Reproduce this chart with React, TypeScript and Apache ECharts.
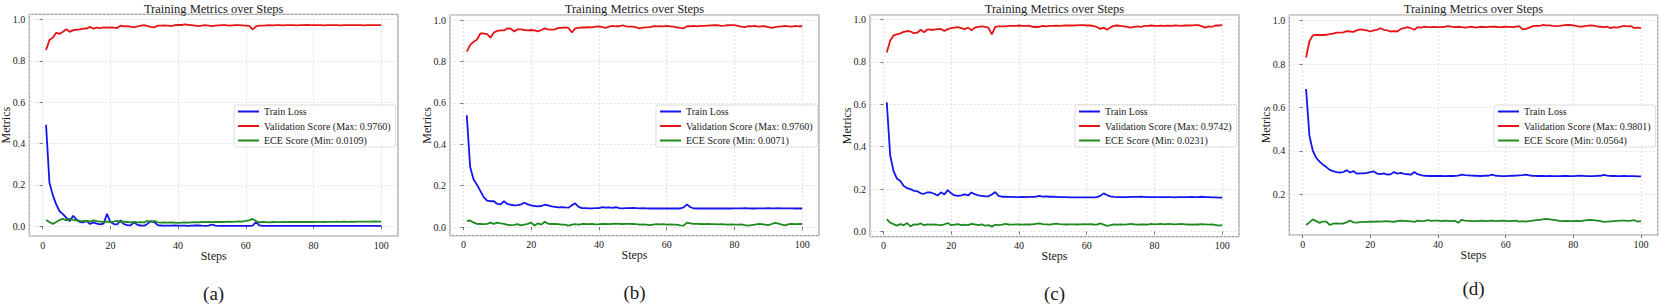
import React, { useEffect, useRef } from "react";
import * as echarts from "echarts";

// ---------- DATA ----------
const STEPS: number[] = Array.from({ length: 100 }, (_, i) => i + 1);
const X_TICKS = [0, 20, 40, 60, 80, 100];

const lossA = [
  0.490, 0.210, 0.150, 0.105, 0.072, 0.058, 0.040, 0.025, 0.050, 0.032,
  0.020, 0.018, 0.025, 0.010, 0.018, 0.012, 0.008, 0.012, 0.060, 0.020,
  0.010, 0.008, 0.028, 0.010, 0.005, 0.004, 0.018, 0.006, 0.003, 0.002,
  0.012, 0.025, 0.018, 0.005, 0.003, 0.002, 0.002, 0.002, 0.003, 0.002,
  0.002, 0.002, 0.001, 0.002, 0.003, 0.004, 0.002, 0.001, 0.002, 0.008,
  0.002, 0.001, 0.001, 0.001, 0.001, 0.001, 0.001, 0.001, 0.001, 0.001,
  0.001, 0.002, 0.020, 0.004, 0.001, 0.001, 0.001, 0.001, 0.001, 0.001,
  0.001, 0.001, 0.001, 0.001, 0.001, 0.001, 0.001, 0.001, 0.001, 0.001,
  0.001, 0.001, 0.001, 0.001, 0.001, 0.001, 0.001, 0.001, 0.001, 0.001,
  0.001, 0.001, 0.001, 0.001, 0.001, 0.001, 0.001, 0.001, 0.001, 0.001,
];
const valA = [
  0.852, 0.900, 0.912, 0.935, 0.930, 0.940, 0.952, 0.940, 0.948, 0.950,
  0.952, 0.955, 0.956, 0.964, 0.955, 0.960, 0.958, 0.962, 0.960, 0.962,
  0.960, 0.958, 0.970, 0.966, 0.968, 0.965, 0.962, 0.966, 0.970, 0.972,
  0.968, 0.964, 0.962, 0.970, 0.970, 0.971, 0.970, 0.968, 0.972, 0.974,
  0.973, 0.976, 0.974, 0.972, 0.970, 0.968, 0.970, 0.972, 0.970, 0.968,
  0.970, 0.971, 0.972, 0.972, 0.970, 0.971, 0.972, 0.972, 0.971, 0.970,
  0.969, 0.952, 0.966, 0.970, 0.970, 0.971, 0.972, 0.971, 0.972, 0.972,
  0.971, 0.972, 0.972, 0.972, 0.971, 0.972, 0.972, 0.973, 0.972, 0.972,
  0.972, 0.972, 0.971, 0.972, 0.972, 0.972, 0.972, 0.971, 0.972, 0.972,
  0.972, 0.972, 0.972, 0.972, 0.971, 0.972, 0.972, 0.972, 0.972, 0.972,
];
const eceA = [
  0.030, 0.020, 0.011, 0.020, 0.030, 0.035, 0.028, 0.035, 0.030, 0.028,
  0.025, 0.024, 0.026, 0.022, 0.028, 0.024, 0.022, 0.020, 0.022, 0.020,
  0.022, 0.025, 0.020, 0.022, 0.020, 0.018, 0.020, 0.018, 0.019, 0.018,
  0.026, 0.020, 0.025, 0.018, 0.017, 0.018, 0.017, 0.018, 0.017, 0.016,
  0.017, 0.018, 0.017, 0.018, 0.019, 0.018, 0.020, 0.019, 0.020, 0.019,
  0.020, 0.021, 0.020, 0.021, 0.022, 0.021, 0.022, 0.023, 0.022, 0.025,
  0.028, 0.035, 0.025, 0.018, 0.020, 0.019, 0.018, 0.020, 0.019, 0.019,
  0.020, 0.019, 0.020, 0.020, 0.021, 0.020, 0.021, 0.020, 0.021, 0.020,
  0.021, 0.021, 0.020, 0.021, 0.021, 0.021, 0.022, 0.021, 0.022, 0.021,
  0.022, 0.021, 0.022, 0.022, 0.022, 0.022, 0.022, 0.023, 0.022, 0.022,
];

const lossB = [
  0.540, 0.290, 0.230, 0.205, 0.175, 0.145, 0.128, 0.125, 0.125, 0.112,
  0.110, 0.125, 0.112, 0.108, 0.105, 0.106, 0.110, 0.118, 0.110, 0.105,
  0.102, 0.100, 0.102, 0.108, 0.105, 0.100, 0.098, 0.095, 0.097, 0.095,
  0.094, 0.105, 0.115, 0.098, 0.092, 0.092, 0.091, 0.091, 0.092, 0.092,
  0.097, 0.094, 0.095, 0.093, 0.096, 0.092, 0.091, 0.092, 0.092, 0.093,
  0.092, 0.091, 0.092, 0.091, 0.090, 0.091, 0.090, 0.090, 0.090, 0.090,
  0.090, 0.090, 0.090, 0.090, 0.095, 0.110, 0.096, 0.091, 0.090, 0.090,
  0.090, 0.090, 0.090, 0.090, 0.090, 0.090, 0.090, 0.090, 0.090, 0.091,
  0.091, 0.091, 0.092, 0.091, 0.090, 0.090, 0.091, 0.091, 0.091, 0.092,
  0.091, 0.091, 0.092, 0.091, 0.091, 0.091, 0.091, 0.090, 0.090, 0.090,
];
const valB = [
  0.848, 0.880, 0.895, 0.905, 0.935, 0.935, 0.932, 0.915, 0.940, 0.948,
  0.950, 0.950, 0.960, 0.958, 0.945, 0.955, 0.955, 0.952, 0.950, 0.952,
  0.950, 0.945, 0.952, 0.960, 0.955, 0.954, 0.955, 0.962, 0.962, 0.965,
  0.962, 0.940, 0.960, 0.962, 0.965, 0.964, 0.966, 0.965, 0.968, 0.970,
  0.966, 0.962, 0.968, 0.972, 0.970, 0.970, 0.975, 0.970, 0.968, 0.968,
  0.965, 0.960, 0.963, 0.965, 0.966, 0.970, 0.970, 0.971, 0.970, 0.972,
  0.970, 0.968, 0.965, 0.962, 0.960, 0.970, 0.970, 0.972, 0.970, 0.972,
  0.972, 0.973, 0.974, 0.975, 0.976, 0.972, 0.973, 0.975, 0.976, 0.976,
  0.972, 0.968, 0.966, 0.970, 0.970, 0.972, 0.968, 0.970, 0.970, 0.966,
  0.962, 0.966, 0.968, 0.970, 0.972, 0.970, 0.968, 0.972, 0.970, 0.970,
];
const eceB = [
  0.030, 0.032, 0.022, 0.016, 0.015, 0.014, 0.016, 0.022, 0.016, 0.022,
  0.018, 0.016, 0.011, 0.010, 0.011, 0.014, 0.008, 0.012, 0.016, 0.022,
  0.008, 0.018, 0.012, 0.026, 0.016, 0.015, 0.016, 0.014, 0.012, 0.012,
  0.007, 0.012, 0.014, 0.012, 0.015, 0.016, 0.014, 0.015, 0.013, 0.014,
  0.016, 0.015, 0.014, 0.016, 0.017, 0.016, 0.015, 0.016, 0.016, 0.015,
  0.014, 0.012, 0.013, 0.012, 0.010, 0.012, 0.014, 0.013, 0.014, 0.012,
  0.013, 0.012, 0.012, 0.008, 0.007, 0.022, 0.018, 0.016, 0.016, 0.015,
  0.014, 0.015, 0.014, 0.014, 0.013, 0.014, 0.013, 0.012, 0.013, 0.012,
  0.012, 0.013, 0.010, 0.007, 0.010, 0.012, 0.015, 0.014, 0.012, 0.010,
  0.015, 0.020, 0.017, 0.012, 0.008, 0.014, 0.015, 0.014, 0.015, 0.015,
];

const lossC = [
  0.610, 0.360, 0.285, 0.250, 0.238, 0.215, 0.205, 0.200, 0.192, 0.190,
  0.180, 0.178, 0.185, 0.184, 0.178, 0.170, 0.185, 0.175, 0.195, 0.180,
  0.170, 0.168, 0.170, 0.175, 0.170, 0.184, 0.176, 0.170, 0.168, 0.166,
  0.166, 0.175, 0.186, 0.168, 0.164, 0.164, 0.163, 0.163, 0.162, 0.162,
  0.163, 0.162, 0.163, 0.163, 0.164, 0.168, 0.165, 0.166, 0.164, 0.164,
  0.163, 0.162, 0.162, 0.162, 0.161, 0.161, 0.161, 0.161, 0.161, 0.161,
  0.161, 0.161, 0.162, 0.168, 0.180, 0.172, 0.166, 0.163, 0.162, 0.162,
  0.162, 0.162, 0.163, 0.163, 0.163, 0.164, 0.163, 0.162, 0.162, 0.162,
  0.162, 0.162, 0.162, 0.162, 0.162, 0.161, 0.162, 0.162, 0.162, 0.162,
  0.163, 0.162, 0.162, 0.164, 0.162, 0.162, 0.161, 0.161, 0.160, 0.160,
];
const valC = [
  0.845, 0.900, 0.925, 0.930, 0.935, 0.942, 0.946, 0.944, 0.936, 0.938,
  0.952, 0.940, 0.954, 0.952, 0.952, 0.955, 0.956, 0.946, 0.955, 0.960,
  0.962, 0.964, 0.960, 0.955, 0.962, 0.950, 0.962, 0.966, 0.968, 0.966,
  0.962, 0.930, 0.965, 0.968, 0.968, 0.968, 0.970, 0.970, 0.970, 0.972,
  0.970, 0.970, 0.971, 0.966, 0.965, 0.966, 0.970, 0.968, 0.970, 0.970,
  0.971, 0.970, 0.971, 0.972, 0.972, 0.972, 0.973, 0.974, 0.974, 0.972,
  0.972, 0.970, 0.965, 0.956, 0.962, 0.952, 0.963, 0.970, 0.972, 0.970,
  0.968, 0.966, 0.962, 0.966, 0.968, 0.965, 0.970, 0.970, 0.972, 0.970,
  0.970, 0.971, 0.970, 0.971, 0.970, 0.972, 0.971, 0.970, 0.972, 0.972,
  0.973, 0.974, 0.974, 0.968, 0.962, 0.968, 0.966, 0.972, 0.972, 0.974,
];
const eceC = [
  0.058, 0.042, 0.035, 0.028, 0.035, 0.030, 0.040, 0.024, 0.034, 0.032,
  0.038, 0.030, 0.034, 0.032, 0.033, 0.031, 0.030, 0.034, 0.040, 0.030,
  0.032, 0.035, 0.030, 0.032, 0.030, 0.036, 0.034, 0.030, 0.034, 0.028,
  0.030, 0.023, 0.032, 0.030, 0.032, 0.036, 0.033, 0.032, 0.034, 0.033,
  0.032, 0.034, 0.033, 0.034, 0.036, 0.038, 0.035, 0.034, 0.032, 0.035,
  0.037, 0.035, 0.034, 0.033, 0.034, 0.034, 0.033, 0.034, 0.035, 0.034,
  0.035, 0.033, 0.032, 0.038, 0.032, 0.027, 0.030, 0.034, 0.032, 0.033,
  0.032, 0.034, 0.036, 0.034, 0.032, 0.034, 0.033, 0.032, 0.036, 0.034,
  0.035, 0.036, 0.034, 0.036, 0.035, 0.034, 0.035, 0.036, 0.034, 0.033,
  0.032, 0.034, 0.033, 0.035, 0.034, 0.032, 0.033, 0.031, 0.028, 0.030,
];

const lossD = [
  0.685, 0.470, 0.400, 0.368, 0.350, 0.336, 0.325, 0.312, 0.306, 0.302,
  0.300, 0.302, 0.310, 0.300, 0.306, 0.295, 0.296, 0.296, 0.298, 0.302,
  0.305, 0.295, 0.292, 0.296, 0.290, 0.292, 0.302, 0.295, 0.298, 0.294,
  0.292, 0.290, 0.302, 0.292, 0.288, 0.285, 0.284, 0.284, 0.284, 0.284,
  0.284, 0.283, 0.284, 0.284, 0.284, 0.286, 0.290, 0.288, 0.287, 0.286,
  0.285, 0.284, 0.284, 0.285, 0.286, 0.290, 0.285, 0.284, 0.283, 0.283,
  0.284, 0.285, 0.286, 0.287, 0.288, 0.290, 0.287, 0.285, 0.284, 0.284,
  0.284, 0.283, 0.284, 0.283, 0.283, 0.283, 0.284, 0.284, 0.283, 0.283,
  0.284, 0.285, 0.284, 0.283, 0.283, 0.283, 0.284, 0.285, 0.289, 0.286,
  0.284, 0.284, 0.283, 0.283, 0.284, 0.283, 0.283, 0.283, 0.282, 0.282,
];
const valD = [
  0.830, 0.905, 0.932, 0.934, 0.934, 0.934, 0.935, 0.938, 0.940, 0.945,
  0.945, 0.946, 0.952, 0.950, 0.948, 0.955, 0.960, 0.958, 0.955, 0.950,
  0.955, 0.958, 0.965, 0.958, 0.955, 0.950, 0.952, 0.950, 0.962, 0.966,
  0.970, 0.965, 0.958, 0.970, 0.968, 0.972, 0.970, 0.970, 0.971, 0.970,
  0.970, 0.972, 0.975, 0.972, 0.970, 0.972, 0.970, 0.968, 0.970, 0.972,
  0.968, 0.970, 0.972, 0.970, 0.971, 0.972, 0.972, 0.970, 0.970, 0.972,
  0.971, 0.970, 0.972, 0.975, 0.960, 0.962, 0.968, 0.975, 0.976, 0.976,
  0.980, 0.978, 0.978, 0.976, 0.975, 0.976, 0.978, 0.980, 0.980, 0.978,
  0.975, 0.972, 0.974, 0.976, 0.978, 0.977, 0.974, 0.972, 0.970, 0.972,
  0.966, 0.970, 0.968, 0.972, 0.976, 0.974, 0.975, 0.966, 0.968, 0.967,
];
const eceD = [
  0.058, 0.070, 0.084, 0.076, 0.068, 0.074, 0.074, 0.058, 0.064, 0.065,
  0.064, 0.065, 0.070, 0.079, 0.070, 0.069, 0.071, 0.072, 0.072, 0.074,
  0.073, 0.075, 0.074, 0.075, 0.076, 0.074, 0.073, 0.076, 0.078, 0.077,
  0.076, 0.075, 0.072, 0.078, 0.076, 0.077, 0.080, 0.077, 0.078, 0.078,
  0.076, 0.078, 0.077, 0.076, 0.078, 0.068, 0.082, 0.078, 0.077, 0.076,
  0.076, 0.077, 0.078, 0.076, 0.077, 0.078, 0.076, 0.077, 0.078, 0.077,
  0.076, 0.077, 0.078, 0.074, 0.076, 0.074, 0.076, 0.078, 0.080, 0.082,
  0.084, 0.086, 0.084, 0.082, 0.080, 0.076, 0.076, 0.077, 0.076, 0.076,
  0.077, 0.076, 0.078, 0.080, 0.082, 0.080, 0.078, 0.076, 0.072, 0.074,
  0.075, 0.076, 0.077, 0.078, 0.078, 0.077, 0.078, 0.080, 0.074, 0.076,
];

const PANEL_LABELS = ["(a)", "(b)", "(c)", "(d)"];
const MAX_VAL_TEXT = ["0.9760", "0.9760", "0.9742", "0.9801"];
const MIN_ECE_TEXT = ["0.0109", "0.0071", "0.0231", "0.0564"];
const LOSS = [lossA, lossB, lossC, lossD];
const VAL = [valA, valB, valC, valD];
const ECE = [eceA, eceB, eceC, eceD];

const TITLE = "Training Metrics over Steps";
const X_NAME = "Steps";
const Y_NAME = "Metrics";

// ---------- LAYOUT / STYLE ----------
const W = 1661;
const H = 306;
const FAMILY = "Liberation Serif";
const GRIDS = [
  { left: 29.3, top: 14.3, width: 368.7, height: 221.7, legendLeft: 234, labelY: 293 },
  { left: 450, top: 15, width: 369, height: 220.7, legendLeft: 656, labelY: 292.7 },
  { left: 870, top: 15, width: 369, height: 221.7, legendLeft: 1075, labelY: 293 },
  { left: 1289.3, top: 15, width: 368.4, height: 220, legendLeft: 1494, labelY: 288 },
];
const BLUE = "#1515ee";
const RED = "#e61515";
const GREEN = "#1f8a1f";
const TEXT = "#1a1a1a";

function gtext(x: number, y: number, text: string, size: number, rotation = 0) {
  return {
    type: "text",
    x,
    y,
    rotation,
    silent: true,
    style: {
      text,
      font: `${size}px "${FAMILY}"`,
      fontFamily: FAMILY,
      fontSize: size,
      fill: TEXT,
      align: "center",
      verticalAlign: "middle",
      textAlign: "center",
      textVerticalAlign: "middle",
    },
  };
}

function buildOption() {
  const grid: any[] = [];
  const xAxis: any[] = [];
  const yAxis: any[] = [];
  const series: any[] = [];
  const legend: any[] = [];
  const graphic: any[] = [];

  const first = STEPS[0];
  const last = STEPS[STEPS.length - 1];
  const xMin = first - 0.05 * (last - first);
  const xMax = last + 0.05 * (last - first);

  GRIDS.forEach((g, i) => {
    const all = [...LOSS[i], ...VAL[i], ...ECE[i]];
    const dMin = Math.min(...all);
    const dMax = Math.max(...all);
    const pad = 0.05 * (dMax - dMin);

    grid.push({
      left: g.left,
      top: g.top,
      width: g.width,
      height: g.height,
      show: true,
      borderColor: "#9a9a9a",
      borderWidth: 1.2,
      backgroundColor: "transparent",
      containLabel: false,
    });

    xAxis.push({
      type: "value",
      gridIndex: i,
      min: xMin,
      max: xMax,
      splitNumber: 5,
      axisLine: { show: false },
      axisTick: { show: true, length: 3, lineStyle: { color: "#555", width: 0.8 } },
      axisLabel: {
        show: true,
        margin: 4,
        fontFamily: FAMILY,
        fontSize: 10,
        color: TEXT,
        showMinLabel: false,
        showMaxLabel: false,
        formatter: (v: number) =>
          X_TICKS.includes(Math.round(v * 1000) / 1000) ? String(Math.round(v)) : "",
      },
      splitLine: {
        show: true,
        lineStyle: { color: "#dadada", type: [2, 2], width: 0.8 },
      },
    });

    yAxis.push({
      type: "value",
      gridIndex: i,
      min: dMin - pad,
      max: dMax + pad,
      splitNumber: 5,
      axisLine: { show: false },
      axisTick: { show: true, length: 3, lineStyle: { color: "#555", width: 0.8 } },
      axisLabel: {
        show: true,
        margin: 4,
        fontFamily: FAMILY,
        fontSize: 10,
        color: TEXT,
        showMinLabel: false,
        showMaxLabel: false,
        formatter: (v: number) => {
          const r = Math.round(v * 10) / 10;
          return Math.abs(r - v) < 1e-6 ? r.toFixed(1) : "";
        },
      },
      splitLine: {
        show: true,
        lineStyle: { color: "#dadada", type: [2, 2], width: 0.8 },
      },
    });

    const names = [
      "Train Loss",
      `Validation Score (Max: ${MAX_VAL_TEXT[i]})`,
      `ECE Score (Min: ${MIN_ECE_TEXT[i]})`,
    ];
    const arrs = [LOSS[i], VAL[i], ECE[i]];
    const colors = [BLUE, RED, GREEN];
    arrs.forEach((arr, k) => {
      series.push({
        type: "line",
        name: names[k],
        xAxisIndex: i,
        yAxisIndex: i,
        data: STEPS.map((s, j) => [s, arr[j]]),
        showSymbol: false,
        symbol: "none",
        silent: true,
        color: colors[k],
        lineStyle: { color: colors[k], width: 1.8 },
        z: 3,
      });
    });

    legend.push({
      orient: "vertical",
      left: g.legendLeft,
      top: 105,
      data: names.map((n, k) => ({ name: n, itemStyle: { color: colors[k] } })),
      icon: "rect",
      itemWidth: 21,
      itemHeight: 2,
      itemGap: 3.5,
      padding: [1, 5, 1, 4],
      backgroundColor: "rgba(255,255,255,0.85)",
      borderColor: "#d4d4d4",
      borderWidth: 0.8,
      borderRadius: 2,
      selectedMode: false,
      textStyle: { fontFamily: FAMILY, fontSize: 10, color: TEXT, lineHeight: 11 },
      z: 10,
    });

    const cx = g.left + g.width / 2;
    graphic.push(gtext(cx, 8.5, TITLE, 12.5));
    graphic.push(gtext(cx, g.top + g.height + 19.5, X_NAME, 12));
    graphic.push(gtext(g.left - 23.3, g.top + g.height / 2, Y_NAME, 12, Math.PI / 2));
    graphic.push(gtext(cx, g.labelY, PANEL_LABELS[i], 19));
  });

  return {
    animation: false,
    backgroundColor: "#ffffff",
    textStyle: { fontFamily: FAMILY },
    grid,
    xAxis,
    yAxis,
    series,
    legend,
    graphic,
  };
}

export default function App() {
  const ref = useRef<HTMLDivElement>(null);
  useEffect(() => {
    document.body.style.margin = "0";
    if (!ref.current) return;
    const chart = echarts.init(ref.current, undefined, { renderer: "svg", width: W, height: H });
    chart.setOption(buildOption() as any);
    return () => {
      chart.dispose();
    };
  }, []);
  return <div ref={ref} style={{ width: W, height: H }} />;
}
